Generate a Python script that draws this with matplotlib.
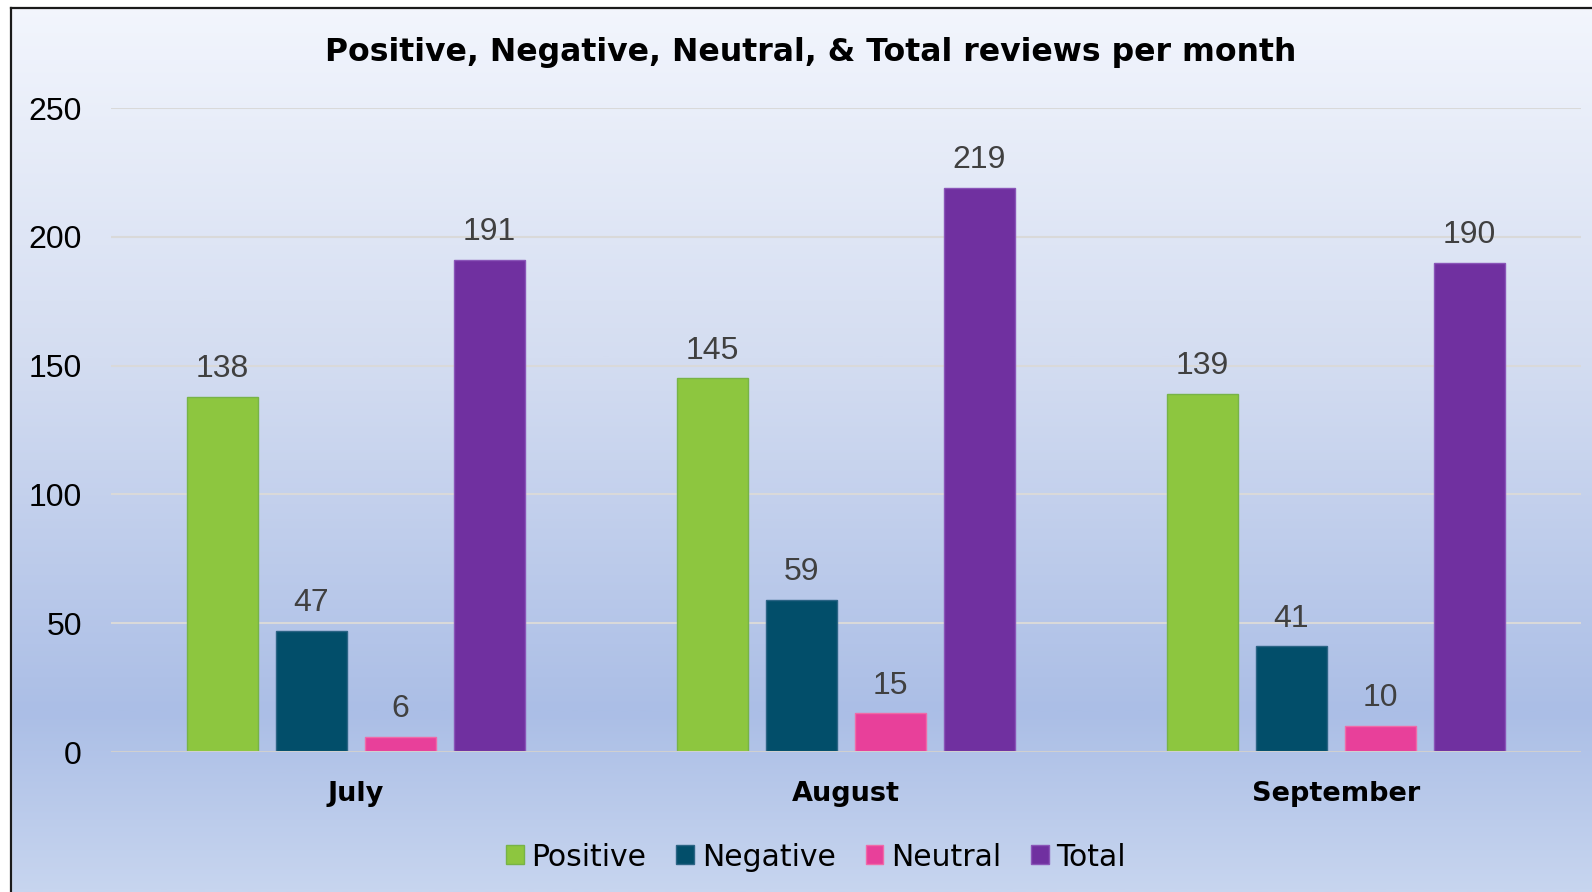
import numpy as np
import matplotlib
matplotlib.use("Agg")
from matplotlib import pyplot as plt
from matplotlib.colors import LinearSegmentedColormap
from matplotlib.patches import Patch


months = ["July", "August", "September"]
series = ["Positive", "Negative", "Neutral", "Total"]
positive = [138, 145, 139]
negative = [47, 59, 41]
neutral = [6, 15, 10]
total = [191, 219, 190]

colors = ["#8dc63f", "#024e6a", "#e8409a", "#7030a0"]
edges = ["#77b347", "#2b6485", "#f06aa8", "#8a55b8"]
y_ticks = [0, 50, 100, 150, 200, 250]

W, H = 1592, 892


def main():
    fig = plt.figure(figsize=(W / 100, H / 100), dpi=100)

    # gradient background behind the chart frame
    bg = fig.add_axes([0, 0, 1, 1], zorder=-10)
    grad_cmap = LinearSegmentedColormap.from_list(
        "bg",
        [(0.0, "#f3f6fd"), (0.4, "#d4ddf1"), (0.8, "#abbee6"), (1.0, "#c7d5ef")],
    )
    grad = np.linspace(0, 1, 400).reshape(-1, 1)
    bg.imshow(grad, cmap=grad_cmap, aspect="auto", extent=(0, 1, 0, 1), origin="upper")
    bg.set_xlim(0, 1)
    bg.set_ylim(0, 1)
    bg.axis("off")
    # white strip outside the frame on the top and left
    bg.fill_between([0, 1], 1 - 8 / H, 1, color="white", zorder=2)
    bg.fill_between([0, 11 / W], 0, 1, color="white", zorder=2)
    bg.plot([11 / W, 11 / W], [0, 1 - 8 / H], color="#1a1a1a", lw=1.6, zorder=3)
    bg.plot([11 / W, 1], [1 - 8 / H, 1 - 8 / H], color="#1a1a1a", lw=1.6, zorder=3)

    ax = fig.add_axes([111 / W, 1 - 752 / H, (1581 - 111) / W, (752 - 108) / H])
    ax.patch.set_alpha(0)

    x = np.arange(len(months))
    step = 0.1816
    width = 0.143
    data = [positive, negative, neutral, total]
    for i, (vals, c, ec) in enumerate(zip(data, colors, edges)):
        xs = x + (i - 1.5) * step
        bars = ax.bar(xs, vals, width, color=c, edgecolor=ec, linewidth=1.0, zorder=3)
        for b, v in zip(bars, vals):
            ax.annotate(
                f"{v}",
                xy=(b.get_x() + b.get_width() / 2, v),
                xytext=(0, 20),
                textcoords="offset points",
                ha="center",
                va="center",
                fontsize=23,
                color="#404040",
                family="Liberation Sans",
            )

    ax.set_xlim(-0.5, 2.5)
    ax.set_ylim(0, 250)
    ax.set_yticks(y_ticks)
    ax.set_yticklabels([str(t) for t in y_ticks], fontsize=23, family="Liberation Sans")
    ax.set_xticks(x)
    ax.set_xticklabels(months, fontsize=19.5, fontweight="bold")
    ax.tick_params(axis="y", length=0, pad=21)
    ax.tick_params(axis="x", length=0, pad=21)
    for s in ax.spines.values():
        s.set_visible(False)
    ax.grid(axis="y", color="#d9d9d9", lw=1.5, zorder=1)
    ax.axhline(0, color="#d0d0d0", lw=2.2, zorder=4)

    fig.text(
        (325 + 1296) / 2 / W,
        1 - 53 / H,
        "Positive, Negative, Neutral, & Total reviews per month",
        ha="center",
        va="center",
        fontsize=22.7,
        fontweight="bold",
    )

    handles = [Patch(facecolor=c, edgecolor=ec, label=s) for s, c, ec in zip(series, colors, edges)]
    fig.legend(
        handles=handles,
        loc="center",
        bbox_to_anchor=(816 / W, 1 - 857 / H),
        ncol=4,
        frameon=False,
        fontsize=21.5,
        handlelength=0.6,
        handleheight=0.6,
        handletextpad=0.25,
        columnspacing=1.0,
    )

    fig.savefig("out.png", dpi=100)
    plt.close(fig)


if __name__ == "__main__":
    main()
